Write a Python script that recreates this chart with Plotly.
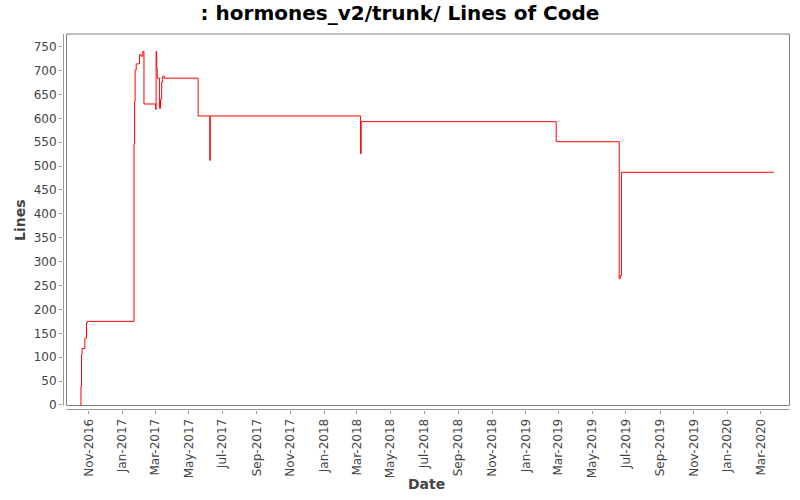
import plotly.graph_objects as go

dates = [
    "2016-10-17", "2016-10-18", "2016-10-19", "2016-10-20", "2016-10-25",
    "2016-10-28", "2016-10-30", "2017-01-22", "2017-01-23", "2017-01-24",
    "2017-01-26", "2017-02-01", "2017-02-04", "2017-02-07", "2017-02-09",
    "2017-03-02", "2017-03-03", "2017-03-04", "2017-03-05", "2017-03-09",
    "2017-03-11", "2017-03-13", "2017-03-15", "2017-03-18", "2017-05-18",
    "2017-06-08", "2017-06-09", "2018-03-08", "2018-03-09", "2019-02-25",
    "2019-06-19", "2019-06-21", "2019-06-23", "2020-03-25",
]
lines = [
    0, 40, 105, 118, 140,
    172, 175, 547, 635, 701,
    714, 733, 730, 740, 630,
    619, 740, 705, 684, 621,
    640, 676, 688, 684, 605,
    512, 605, 526, 593, 551,
    265, 271, 487, 487,
]

title_text = ": hormones_v2/trunk/ Lines of Code"
x_title = "Date"
y_title = "Lines"

W, H = 800, 500
L, R, T, B = 63, 789, 34, 410
pw, ph = R - L, B - T

def px(x):
    return (x - L) / pw

def py(y):
    return (B - y) / ph

fig = go.Figure()
fig.add_trace(go.Scatter(
    x=dates, y=lines, mode="lines", line=dict(color="#ff0000", width=1, shape="hv"),
    hoverinfo="x+y", showlegend=False,
))

tickfont = dict(family="DejaVu Sans", size=12, color="#444444")
fig.update_layout(
    width=W, height=H,
    margin=dict(l=L, r=W - R, t=T, b=H - B, pad=0),
    paper_bgcolor="white", plot_bgcolor="white",
    title=dict(text=title_text, x=0.5, xref="container", xanchor="center",
               y=1 - 13 / H, yref="container", yanchor="middle",
               font=dict(family="DejaVu Sans", size=20, color="black", weight="bold")),
    xaxis=dict(
        type="date", range=["2016-09-15 12:00", "2020-04-21 05:00"],
        tick0="2016-11-01", dtick="M2", tickformat="%b-%Y", tickangle=-90,
        ticks="outside", ticklen=3, tickcolor="#999999", tickfont=tickfont,
        showgrid=False, zeroline=False, showline=False,
    ),
    yaxis=dict(
        range=[-10.5, 776.5], tick0=0, dtick=50,
        ticks="outside", ticklen=3, tickcolor="#999999", tickfont=tickfont,
        showgrid=False, zeroline=False, showline=False,
    ),
    shapes=[
        dict(type="rect", xref="paper", yref="paper", x0=px(66.5), x1=px(789.5),
             y0=py(405.5), y1=py(34), line=dict(color="#808080", width=1), layer="above"),
        dict(type="line", xref="paper", yref="paper", x0=px(63.5), x1=px(63.5),
             y0=py(405.5), y1=py(34), line=dict(color="#999999", width=1)),
        dict(type="line", xref="paper", yref="paper", x0=px(66.5), x1=px(789.5),
             y0=py(409.5), y1=py(409.5), line=dict(color="#999999", width=1)),
    ],
    annotations=[
        dict(text=y_title, xref="paper", yref="paper", x=px(20), y=py(220),
             xanchor="center", yanchor="middle", textangle=-90, showarrow=False,
             font=dict(family="DejaVu Sans", size=14, color="#444444", weight="bold")),
        dict(text=x_title, xref="paper", yref="paper", x=px(427), y=py(484),
             xanchor="center", yanchor="middle", showarrow=False,
             font=dict(family="DejaVu Sans", size=14, color="#444444", weight="bold")),
    ],
)

fig.write_html("out.html")
